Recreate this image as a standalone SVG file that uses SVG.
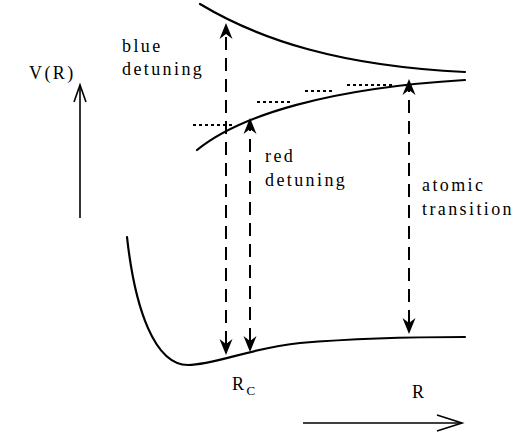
<svg xmlns="http://www.w3.org/2000/svg" width="531" height="439" viewBox="0 0 531 439">
<style>
.curve{fill:none;stroke:#000;stroke-width:2.2;stroke-linecap:round}
.dash{fill:none;stroke:#000;stroke-width:2;stroke-dasharray:13,8}
.dot{fill:none;stroke:#000;stroke-width:2;stroke-dasharray:3,3}
.axis{fill:none;stroke:#000;stroke-width:1.6}
.lbl{font-family:"Liberation Serif","Times New Roman",serif;font-size:18px;letter-spacing:2.4px;fill:#000}
</style>
<defs>
<marker id="ah" viewBox="0 -8 17 16" refX="5" refY="0" markerWidth="17" markerHeight="16" markerUnits="userSpaceOnUse" orient="auto-start-reverse">
<path d="M16,0 L0,-6.5 L5,0 L0,6.5 Z" fill="#000"/>
</marker>
</defs>
<g id="curves">
<path class="curve" d="M200,4 C260,40 340,66 465,72"/>
<path class="curve" d="M197,150 C240,115 330,88 465,80"/>
<path class="curve" d="M127,237 C135,310 155,365 188,365 C215,365 250,348 300,343 C360,338 420,337 465,337"/>
</g>
<g id="levels">
<line class="dot" x1="193" y1="125" x2="233" y2="125"/>
<line class="dot" x1="257" y1="102" x2="291" y2="102"/>
<line class="dot" x1="305" y1="91" x2="334" y2="91"/>
<line class="dot" x1="347" y1="85" x2="394" y2="85"/>
</g>
<g id="connectors">
<line class="dash" x1="226" y1="344" x2="226" y2="34" marker-start="url(#ah)" marker-end="url(#ah)"/>
<line class="dash" x1="250" y1="341" x2="250" y2="129" marker-start="url(#ah)" marker-end="url(#ah)"/>
<line class="dash" x1="409" y1="323" x2="409" y2="90" marker-start="url(#ah)" marker-end="url(#ah)"/>
<line class="axis" x1="80" y1="218" x2="80" y2="85"/>
<polyline class="axis" points="74,102 80,85 86,102"/>
<line class="axis" x1="303" y1="423" x2="462" y2="423"/>
<polyline class="axis" points="437,415 462,423 437,431"/>
</g>
<g id="labels">
<text class="lbl" x="122" y="52">blue</text>
<text class="lbl" x="122" y="75">detuning</text>
<text class="lbl" x="29" y="79">V(R)</text>
<text class="lbl" x="265" y="162">red</text>
<text class="lbl" x="265" y="186">detuning</text>
<text class="lbl" x="422" y="191">atomic</text>
<text class="lbl" x="422" y="215">transition</text>
<text class="lbl" x="232" y="390">R<tspan font-size="13" dy="5">C</tspan></text>
<text class="lbl" x="412" y="398">R</text>
</g>
</svg>
